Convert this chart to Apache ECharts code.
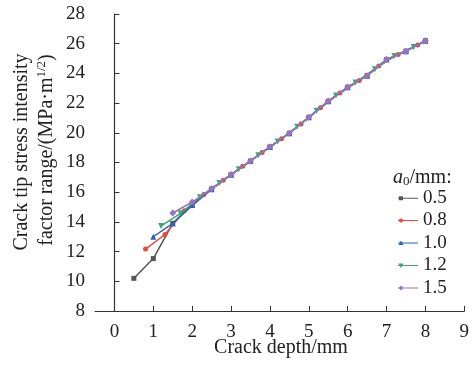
<!DOCTYPE html>
<html><head><meta charset="utf-8">
<script src="https://cdn.jsdelivr.net/npm/echarts@6/dist/echarts.min.js"></script>
<style>html,body{margin:0;padding:0;background:#fff}#c{width:472px;height:369px}</style>
</head><body><div id="c"></div>
<script>
const xTicks = [0,1,2,3,4,5,6,7,8,9];
const legendNames = ['0.5','0.8','1.0','1.2','1.5'];
const depth05 = [0.5,1.0,1.5,2.0,2.5,3.0,3.5,4.0,4.5,5.0,5.5,6.0,6.5,7.0,7.5,8.0];
const k05 = [10.2,11.53,13.9,15.1,16.22,17.18,18.1,19.05,19.97,21.04,22.12,23.07,23.85,24.93,25.5,26.2];
const depth08 = [0.8,1.3,1.8,2.3,2.8,3.3,3.8,4.3,4.8,5.3,5.8,6.3,6.8,7.3,7.8];
const k08 = [12.17,13.15,14.75,15.85,16.8,17.74,18.68,19.6,20.6,21.68,22.68,23.52,24.5,25.28,25.92];
const depth10 = [1.0,1.5,2.0,2.5,3.0,3.5,4.0,4.5,5.0,5.5,6.0,6.5,7.0,7.5,8.0];
const k10 = [13.0,13.9,15.14,16.2,17.18,18.1,19.05,19.97,21.04,22.12,23.07,23.85,24.93,25.5,26.2];
const depth12 = [1.2,1.7,2.2,2.7,3.2,3.7,4.2,4.7,5.2,5.7,6.2,6.7,7.2,7.7];
const k12 = [13.72,14.58,15.66,16.62,17.55,18.48,19.42,20.4,21.48,22.52,23.39,24.28,25.17,25.78];
const depth15 = [1.5,2.0,2.5,3.0,3.5,4.0,4.5,5.0,5.5,6.0,6.5,7.0,7.5,8.0];
const k15 = [14.6,15.34,16.24,17.19,18.1,19.06,19.97,21.04,22.14,23.08,23.85,24.95,25.5,26.2];

const FONT = '"Liberation Serif", "Times New Roman", serif';
const zip = (a,b) => a.map((v,i)=>[v,b[i]]);
const colors = ['#555555','#e8463f','#2a63b8','#3aa86b','#9b72c2'];
const symbols = ['rect','circle','triangle','triangle','diamond'];
const sizes = [5,5,6,6,7];
const rots = [0,0,0,180,0];
const datas = [zip(depth05,k05),zip(depth08,k08),zip(depth10,k10),zip(depth12,k12),zip(depth15,k15)];
// legend icons: line with marker near left end (box 20x5)
const LINE = 'M0,2 L20,2 L20,3 L0,3 Z ';
const icons = [
  'path://' + LINE + 'M1,0.5 L5,0.5 L5,4.5 L1,4.5 Z M0,0 L0,0',
  'path://' + LINE + 'M1,2.5 A2,2 0 1 1 5,2.5 A2,2 0 1 1 1,2.5 Z M0,0 L0,5',
  'path://' + LINE + 'M0.5,4.5 L3,0 L5.5,4.5 Z M0,0 L0,5',
  'path://' + LINE + 'M0.5,0.5 L5.5,0.5 L3,5 Z M0,0 L0,5',
  'path://' + LINE + 'M3,0 L5.5,2.5 L3,5 L0.5,2.5 Z'
];

const chart = echarts.init(document.getElementById('c'), null, {renderer:'canvas'});
chart.setOption({
  animation:false,
  backgroundColor:'#fff',
  grid:{left:95,right:5,top:14,bottom:58,containLabel:false},
  xAxis:{type:'value',min:-0.5,max:9,
    axisLine:{show:true,onZero:false,lineStyle:{color:'#333',width:1.2}},
    axisTick:{show:true,inside:true,length:5,customValues:xTicks,lineStyle:{color:'#333'}},
    axisLabel:{customValues:xTicks,fontFamily:FONT,fontSize:19,color:'#222',margin:12},
    splitLine:{show:false}
  },
  yAxis:{type:'value',min:8,max:28,interval:2,
    axisLine:{show:true,lineStyle:{color:'#333',width:1.2}},
    axisTick:{show:true,inside:true,length:5,lineStyle:{color:'#333'}},
    axisLabel:{fontFamily:FONT,fontSize:19,color:'#222',margin:10},
    splitLine:{show:false}
  },
  legend:{orient:'vertical',left:398,top:188,padding:0,itemWidth:20,itemHeight:5,itemGap:2.5,
    data:legendNames.map((n,i)=>({name:n,icon:icons[i]})),
    textStyle:{fontFamily:FONT,fontSize:19,color:'#222',lineHeight:20}
  },
  graphic:[
    {type:'text',x:22,y:152,rotation:Math.PI/2,style:{text:'Crack tip stress intensity',font:'20px '+FONT,fill:'#222',align:'center',verticalAlign:'middle'}},
    {type:'text',x:47,y:150,rotation:Math.PI/2,style:{text:'factor range/(MPa·m{sup|1/2})',font:'20px '+FONT,fill:'#222',align:'center',verticalAlign:'middle',
      rich:{sup:{fontSize:13,fontFamily:FONT,fill:'#222',padding:[0,0,10,0]}}}},
    {type:'text',x:281,y:348,style:{text:'Crack depth/mm',font:'20px '+FONT,fill:'#222',align:'center',verticalAlign:'middle'}},
    {type:'text',x:393,y:178,style:{text:'{i|a}{sub|0}/mm:',font:'20px '+FONT,fill:'#222',align:'left',verticalAlign:'middle',
      rich:{i:{fontStyle:'italic',fontSize:20,fontFamily:FONT,fill:'#222'},sub:{fontSize:13,fontFamily:FONT,fill:'#222',padding:[8,0,0,0]}}}}
  ],
  series: legendNames.map((n,i)=>({
    name:n,type:'line',data:datas[i],
    symbol:symbols[i],symbolSize:sizes[i],symbolRotate:rots[i],showSymbol:true,
    lineStyle:{color:colors[i],width:1.5},itemStyle:{color:colors[i]},
    z:2+i
  }))
});
</script></body></html>
